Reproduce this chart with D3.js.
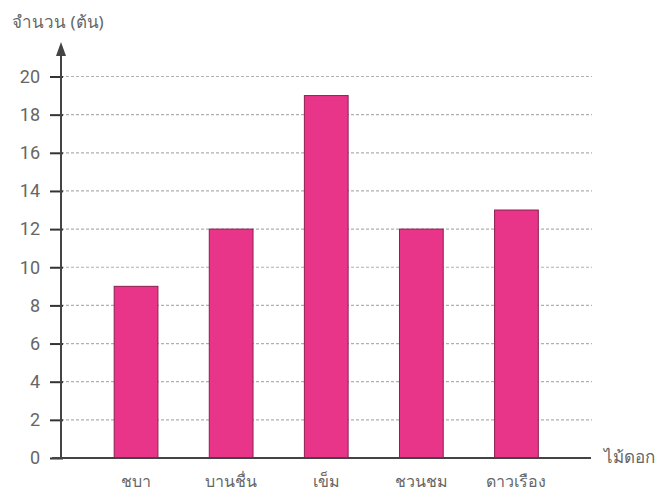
<!DOCTYPE html>
<html><head><meta charset="utf-8">
<script src="https://cdn.jsdelivr.net/npm/d3@7"></script>
<style>body{margin:0;background:#fff}svg{display:block}text{font-family:"Noto Sans",sans-serif}</style>
</head><body>
<svg id="c" width="660" height="493"></svg>
<script>
const categories = ["ชบา", "บานชื่น", "เข็ม", "ชวนชม", "ดาวเรือง"];
const values = [9, 12, 19, 12, 13];
const yTicks = [0, 2, 4, 6, 8, 10, 12, 14, 16, 18, 20];
const yTitle = "จำนวน (ต้น)";
const xTitle = "ไม้ดอก";

const svg = d3.select("#c");
const axisX = 61, y0 = 458;
const y = d3.scaleLinear().domain([0, 20]).range([y0, 76.5]);
const x = d3.scaleBand().domain(categories).range([88.5, 564]).paddingInner(0.54).paddingOuter(0.27);

// gridlines
svg.append("g").selectAll("line").data(yTicks.filter(d => d > 0)).join("line")
  .attr("x1", axisX).attr("x2", 592).attr("y1", d => y(d)).attr("y2", d => y(d))
  .attr("stroke", "#b0b0b0").attr("stroke-width", 1.2).attr("stroke-dasharray", "3,2");

// bars
svg.append("g").selectAll("rect").data(values).join("rect")
  .attr("x", (d, i) => x(categories[i])).attr("width", x.bandwidth())
  .attr("y", d => y(d)).attr("height", d => y0 - y(d))
  .attr("fill", "#e8358a").attr("stroke", "#8a1f50").attr("stroke-width", 1);

// y axis
const ya = d3.axisLeft(y).tickValues(yTicks).tickSize(11).tickPadding(10);
const gy = svg.append("g").attr("transform", `translate(${axisX},0)`).call(ya);
gy.select(".domain").remove();
gy.selectAll(".tick line").attr("stroke", "#333").attr("stroke-width", 2).attr("x2", 2).attr("x1", -11);
gy.selectAll(".tick text").attr("fill", "#666").style("font-size", "18px").style("font-family", "Roboto, 'Noto Sans', sans-serif");

svg.append("line").attr("x1", axisX).attr("x2", axisX).attr("y1", y0).attr("y2", 50)
  .attr("stroke", "#444").attr("stroke-width", 2);
svg.append("path").attr("d", `M${axisX},42 L${axisX-5},56 L${axisX+5},56 Z`).attr("fill", "#444");

// x axis
const xa = d3.axisBottom(x).tickSize(0).tickPadding(18);
const gx = svg.append("g").attr("transform", `translate(0,${y0})`).call(xa);
gx.select(".domain").remove();
gx.selectAll(".tick text").attr("fill", "#666").style("font-size", "16px").style("font-family", "'Noto Sans', sans-serif");
svg.append("line").attr("x1", 52).attr("x2", 591).attr("y1", y0).attr("y2", y0)
  .attr("stroke", "#444").attr("stroke-width", 2);

// titles
svg.append("text").attr("x", 12).attr("y", 28).text(yTitle).attr("fill", "#666").style("font-size", "17px");
svg.append("text").attr("x", 604).attr("y", 463).text(xTitle).attr("fill", "#666").style("font-size", "17px");
</script>
</body></html>
